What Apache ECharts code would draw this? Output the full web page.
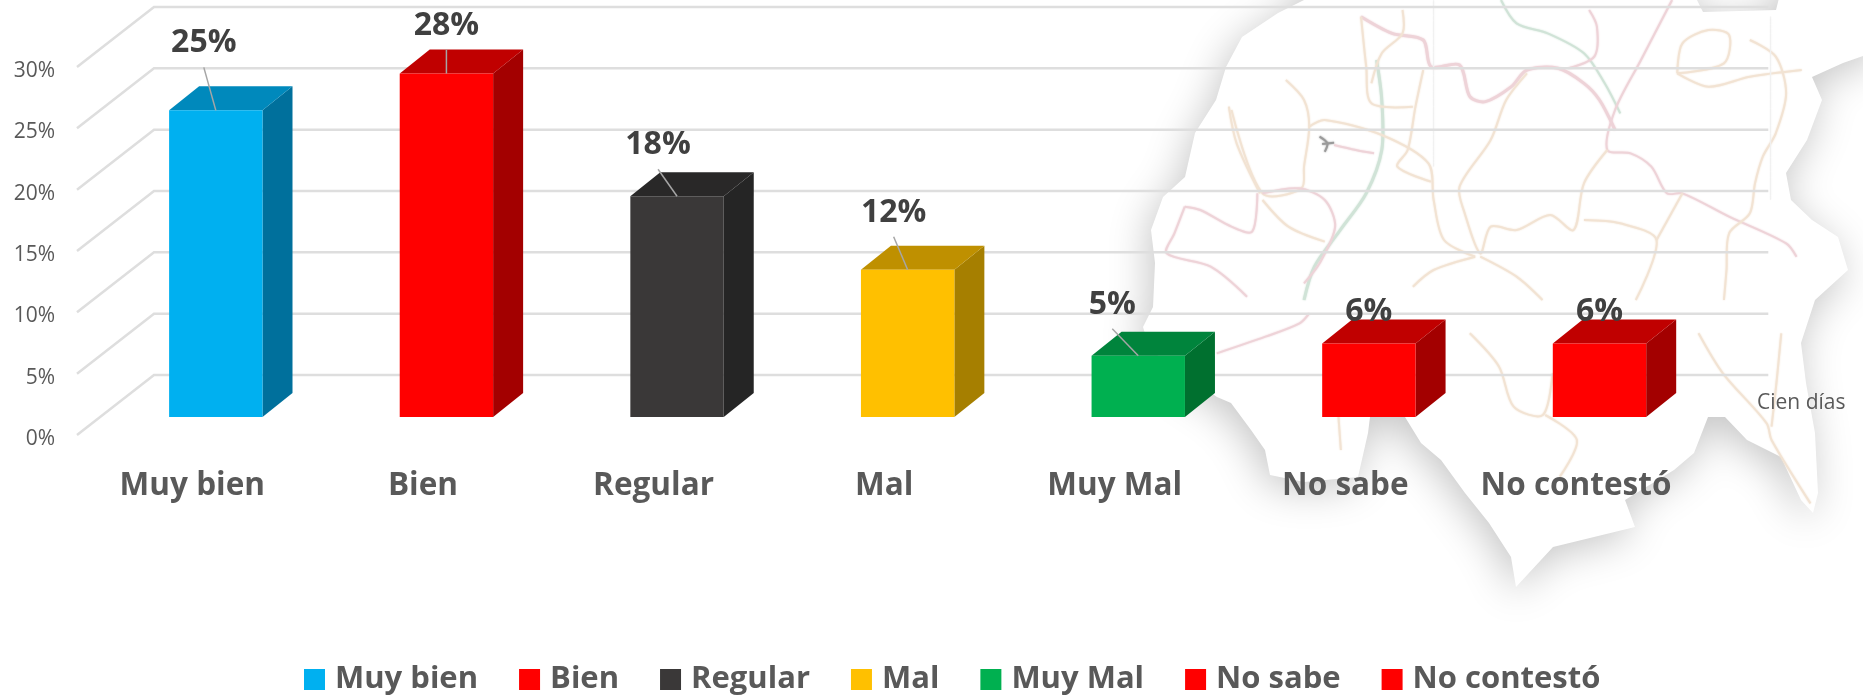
<!DOCTYPE html>
<html>
<head>
<meta charset="utf-8">
<style>html,body{margin:0;padding:0;background:#fff}#c{width:1863px;height:696px}</style>
<script src="https://cdn.jsdelivr.net/npm/echarts@6/dist/echarts.min.js"></script>
</head>
<body>
<div id="c"></div>
<script>
// ---- data ----
const categories = ['Muy bien','Bien','Regular','Mal','Muy Mal','No sabe','No contestó'];
const values = [25,28,18,12,5,6,6];
const yTicks = [0,5,10,15,20,25,30];
const extraNote = 'Cien días';

// ---- styles ----
const frontColors = ['#00B0F0','#FF0000','#3A3838','#FFC000','#00B050','#FF0000','#FF0000'];
const topColors   = ['#0089BC','#C00000','#292828','#BF9000','#00843C','#C00000','#C00000'];
const sideColors  = ['#00709C','#A30000','#252525','#A67F00','#00702F','#A30000','#A30000'];
const labelNudge  = [[-12,-67],[0,-48],[-19,-51],[-14,-57],[-26,-51],[0,-32],[0,-32]];
const leaderNudge = [[-12,-43],[0,-24],[-19,-27],[-14,-33],[-26,-27],null,null];
const FONT = '"Open Sans", "Noto Sans", sans-serif';
const wall = {dx:77, dy:-60};
const barOffset = {dx:23.5, dy:-18};
const barDepth = {dx:30, dy:-24};

// ---- decorative background map (traced outline + faint roads) ----
const mapOutline = [[1304,-30],[1304,0],[1278,13],[1242,37],[1226,67],[1216,100],[1195,133],[1185,177],[1163,197],[1151,230],[1155,263],[1153,307],[1143,327],[1150,350],[1217,397],[1231,403],[1251,430],[1265,450],[1270,475],[1304,482],[1358,477],[1368,433],[1370,417],[1405,417],[1421,443],[1441,460],[1465,493],[1489,523],[1511,557],[1516,587],[1553,547],[1635,527],[1625,500],[1674,470],[1694,453],[1708,417],[1725,417],[1747,440],[1781,457],[1801,500],[1813,513],[1818,493],[1815,433],[1806,383],[1801,343],[1815,300],[1848,270],[1838,237],[1812,220],[1791,200],[1786,173],[1807,140],[1822,100],[1812,77],[1843,63],[1880,50],[1880,-30],[1786,-30],[1776,10],[1703,12],[1682,-30]];
const O='#f2e3d3',P='#eed3d8',G='#d0e3d7',L='#f0f0f0',K='#9a9a9a';
const roadsUpper = [
 [G,2,[[870,0],[900,70],[960,100],[1030,160],[1070,250],[1100,340]]],
 [G,3,[[630,180],[640,300],[640,450],[610,580],[560,690],[510,800],[490,900]]],
 [P,3,[[600,50],[660,100],[720,120],[735,200],[790,195],[810,290],[840,305],[890,260],[920,210],[980,205],[1030,250],[1060,300],[1090,390]]],
 [P,2,[[1200,0],[1140,180],[1090,330],[1075,450],[1120,460],[1160,500],[1190,580],[1220,580],[1310,650],[1420,730],[1440,770]]],
 [O,2,[[600,50],[610,200],[620,310],[700,320]]],
 [O,2,[[680,30],[680,100],[640,160],[620,250]]],
 [O,2,[[455,240],[490,300],[500,380],[490,500],[485,565],[410,580],[350,330]]],
 [O,2,[[500,380],[530,360],[640,405],[730,490],[740,600],[760,720],[820,770]]],
 [O,2,[[720,210],[705,320],[690,450],[670,500],[735,545]]],
 [P,2,[[410,580],[480,565],[530,600],[550,680],[520,790],[490,850]]],
 [P,2,[[260,620],[290,630],[350,680],[390,695],[400,580]]],
 [P,2,[[260,620],[240,700],[225,760],[310,800],[380,890]]],
 [O,2,[[920,220],[880,300],[850,420],[790,560],[800,640],[830,760],[850,680],[900,690],[965,645],[1010,690],[1030,550],[1075,450]]],
 [O,2,[[1030,660],[1100,670],[1170,720],[1130,900]]],
 [O,2,[[1220,580],[1170,720]]],
 [O,2,[[1210,220],[1220,130],[1270,90],[1310,105],[1300,190],[1210,220]]],
 [O,2,[[1210,220],[1270,260],[1350,230],[1450,210]]],
 [O,2,[[1350,120],[1400,170],[1420,280],[1400,400],[1375,470],[1360,550],[1350,640],[1310,700],[1305,810],[1300,900]]],
 [P,2,[[1040,30],[1055,80],[1050,170],[1000,205]]],
 [O,2,[[820,770],[740,810],[700,860]]],
 [O,2,[[830,770],[900,830],[950,900]]],
 [L,1,[[740,0],[740,500]]],
 [L,1,[[1390,50],[1390,600]]],
 [K,2,[[520,410],[535,430],[530,455]]],
 [K,2,[[525,432],[548,428]]],
 [P,2,[[548,435],[590,450],[625,460]]],
 [O,2,[[345,320],[360,430],[405,580]]],
 [O,2,[[410,600],[460,680],[530,725]]]
];
const roadsLower = [
 [P,2,[[240,160],[340,110],[410,70],[430,40]]],
 [O,2,[[760,100],[820,200],[850,320],[910,345],[930,220]]],
 [O,2,[[915,345],[980,420],[945,530]]],
 [O,2,[[1230,100],[1280,220],[1370,370],[1380,420],[1460,610]]],
 [O,2,[[490,350],[495,450]]],
 [O,2,[[1400,100],[1390,250],[1380,380]]]
];
const fromUpper = p => [1050 + p[0]/1.929, p[1]/3];
const fromLower = p => [1100 + p[0]/2.055, 300 + p[1]/3];
const roadEl = (r, f) => ({type:'polyline', z:-9, silent:true,
  shape:{points:r[2].map(f), smooth:0.3},
  style:{stroke:r[0], lineWidth:r[1], fill:null, shadowBlur:2, shadowColor:r[0]}});

const chart = echarts.init(document.getElementById('c'), null, {renderer:'canvas'});

function renderWall(params, api){
  const cs = params.coordSys;
  const p = api.coord([0, api.value(0)]);
  const x0 = cs.x, x1 = cs.x + cs.width;
  return {type:'polyline', silent:true,
    shape:{points:[[x0, p[1]],[x0+wall.dx, p[1]+wall.dy],[x1+wall.dx, p[1]+wall.dy]]},
    style:{stroke:'#dedede', lineWidth:2.5, fill:null}};
}

function renderBar(params, api){
  const idx = api.value(0), val = api.value(1);
  const top = api.coord([idx, val]);
  const base = api.coord([idx, 0]);
  const w = api.size([1,0])[0] * 0.405;
  const cx = top[0] + barOffset.dx;
  const l = cx - w/2, r = cx + w/2;
  const yt = top[1] + barOffset.dy, yb = base[1] + barOffset.dy;
  const d = barDepth;
  const kids = [
    {type:'polygon', shape:{points:[[r,yb],[r+d.dx,yb+d.dy],[r+d.dx,yt+d.dy],[r,yt]]}, style:{fill:sideColors[idx]}},
    {type:'polygon', shape:{points:[[l,yt],[l+d.dx,yt+d.dy],[r+d.dx,yt+d.dy],[r,yt]]}, style:{fill:topColors[idx]}},
    {type:'rect', shape:{x:l,y:yt,width:w,height:yb-yt}, style:{fill:frontColors[idx]}}
  ];
  const ln = leaderNudge[idx];
  if (ln) kids.push({type:'line', shape:{x1:cx+ln[0],y1:yt+ln[1],x2:cx,y2:yt}, style:{stroke:'#a6a6a6',lineWidth:1.5}});
  const tn = labelNudge[idx];
  kids.push({type:'text', style:{text:val+'%', x:cx+tn[0], y:yt+tn[1], align:'center', verticalAlign:'middle',
    font:'bold 32px '+FONT, fill:'#404040'}});
  return {type:'group', children:kids};
}

chart.setOption({
  animation:false,
  backgroundColor:'#fff',
  textStyle:{fontFamily:FONT},
  grid:{left:77, top:67, width:1614.3, height:368},
  xAxis:{type:'category', data:categories,
    axisLine:{show:false}, axisTick:{show:false}, splitLine:{show:false},
    axisLabel:{margin:35, fontSize:31.5, fontWeight:'bold', color:'#595959', fontFamily:FONT, interval:0}},
  yAxis:{type:'value', min:0, max:30, interval:5,
    axisLine:{show:false}, axisTick:{show:false}, splitLine:{show:false},
    axisLabel:{margin:22, fontSize:21, color:'#595959', fontFamily:FONT, verticalAlign:'top', lineHeight:8, formatter:v=>v+'%'}},
  legend:{data:categories, left:304, top:664, padding:0, icon:'rect', itemWidth:21, itemHeight:21, itemGap:41,
    textStyle:{fontSize:31, fontWeight:'bold', color:'#595959', fontFamily:FONT, padding:[0,0,0,5]},
    selectedMode:false},
  graphic:{elements:[
    {type:'polygon', z:-10, silent:true, shape:{points:mapOutline},
      style:{fill:'#fff', shadowBlur:40, shadowColor:'rgba(0,0,0,0.23)', shadowOffsetX:-4, shadowOffsetY:8}},
    ...roadsUpper.map(r=>roadEl(r,fromUpper)),
    ...roadsLower.map(r=>roadEl(r,fromLower)),
    {type:'text', z:5, left:1757, top:393, style:{text:extraNote, font:'21px '+FONT, fill:'#595959'}}
  ]},
  series:[
    {type:'custom', name:'_wall', z:1, silent:true, renderItem:renderWall, encode:{y:0},
      data:yTicks.map(v=>[v])},
    ...categories.map((c,i)=>({
      type:'custom', name:c, z:3, renderItem:renderBar, silent:true,
      itemStyle:{color:frontColors[i]},
      encode:{x:0,y:1},
      data:[[i, values[i]]]
    }))
  ]
});
</script>
</body>
</html>
